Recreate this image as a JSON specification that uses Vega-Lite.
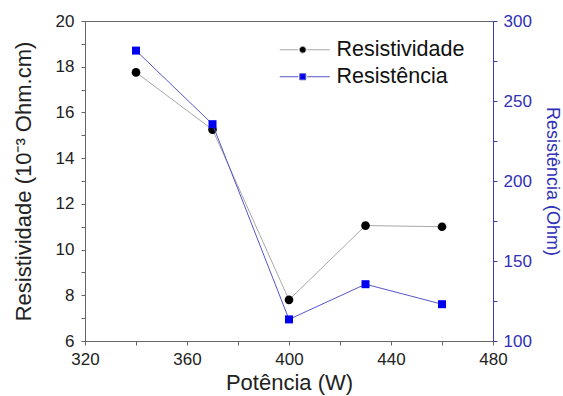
{
  "$schema": "https://vega.github.io/schema/vega-lite/v6.json",
  "width": 408,
  "height": 320,
  "autosize": "none",
  "padding": {"left": 85, "top": 21, "right": 70, "bottom": 55},
  "background": "white",
  "config": {
    "font": "Liberation Sans",
    "view": {"stroke": "#666666", "strokeWidth": 1},
    "axis": {
      "grid": false,
      "labelFontSize": 17,
      "titleFontSize": 20,
      "titleFontWeight": "normal",
      "labelColor": "#222222",
      "titleColor": "#222222",
      "domainColor": "#666666",
      "tickColor": "#666666",
      "tickSize": 4,
      "labelPadding": 6,
      "labelFlush": false,
      "labelOverlap": false
    },
    "legend": {
      "labelFontSize": 21.5,
      "labelColor": "#111111",
      "labelFont": "Liberation Sans",
      "symbolSize": 400,
      "symbolStrokeWidth": 1,
      "rowPadding": 4,
      "labelOffset": 23
    }
  },
  "data": {
    "values": [
      {"potencia": 340, "resistividade": 17.75, "resistencia": 281.5},
      {"potencia": 370, "resistividade": 15.25, "resistencia": 235.5},
      {"potencia": 400, "resistividade": 7.8, "resistencia": 113.5},
      {"potencia": 430, "resistividade": 11.05, "resistencia": 135.5},
      {"potencia": 460, "resistividade": 11.0, "resistencia": 123.0}
    ]
  },
  "encoding": {
    "x": {
      "field": "potencia",
      "type": "quantitative",
      "scale": {"domain": [320, 480], "nice": false, "zero": false},
      "axis": {
        "title": "Potência (W)",
        "titleFontSize": 22,
        "values": [320, 340, 360, 380, 400, 420, 440, 460, 480],
        "labelExpr": "datum.value % 40 === 0 ? datum.label : ''",
        "titlePadding": 5
      }
    }
  },
  "layer": [
    {
      "encoding": {
        "y": {
          "field": "resistividade",
          "type": "quantitative",
          "scale": {"domain": [6, 20], "nice": false, "zero": false},
          "axis": {
            "title": "Resistividade (10⁻³ Ohm.cm)",
            "titleFontSize": 22,
            "values": [6, 7, 8, 9, 10, 11, 12, 13, 14, 15, 16, 17, 18, 19, 20],
            "labelExpr": "datum.value % 2 === 0 ? datum.label : ''",
            "labelPadding": 7,
            "titlePadding": 20
          }
        }
      },
      "layer": [
        {"mark": {"type": "line", "color": "#a8a8a8", "strokeWidth": 1}},
        {"mark": {"type": "point", "shape": "circle", "filled": true, "color": "#000000", "size": 75, "opacity": 1}},
        {
          "transform": [{"filter": "false"}],
          "mark": {"type": "point", "filled": true, "opacity": 1},
          "encoding": {
            "fill": {
              "datum": "Resistividade",
              "scale": {"domain": ["Resistividade", "Resistência"], "range": ["#000000", "#0000ee"]},
              "legend": {"title": null, "orient": "none", "legendX": 207, "legendY": 18}
            },
            "stroke": {
              "datum": "Resistividade",
              "scale": {"domain": ["Resistividade", "Resistência"], "range": ["#a8a8a8", "#5555cc"]},
              "legend": {"title": null, "orient": "none", "legendX": 207, "legendY": 18}
            },
            "shape": {
              "datum": "Resistividade",
              "scale": {
                "domain": ["Resistividade", "Resistência"],
                "range": [
                  "M-2.3,0H-0.45M0.45,0H2.7M-0.33,0A0.33,0.33 0 1,0 0.33,0A0.33,0.33 0 1,0 -0.33,0Z",
                  "M-2.3,0H-0.45M0.45,0H2.7M-0.3,-0.3H0.3V0.3H-0.3Z"
                ]
              },
              "legend": {"title": null, "orient": "none", "legendX": 207, "legendY": 18}
            }
          }
        }
      ]
    },
    {
      "encoding": {
        "y": {
          "field": "resistencia",
          "type": "quantitative",
          "scale": {"domain": [100, 300], "nice": false, "zero": false},
          "axis": {
            "orient": "right",
            "title": "Resistência (Ohm)",
            "titleFontSize": 18,
            "values": [100, 125, 150, 175, 200, 225, 250, 275, 300],
            "labelExpr": "datum.value % 50 === 0 ? datum.label : ''",
            "domainColor": "#3a3ac0",
            "tickColor": "#3a3ac0",
            "labelColor": "#3030b8",
            "titleColor": "#3030b8",
            "labelPadding": 6,
            "titlePadding": 11
          }
        }
      },
      "layer": [
        {"mark": {"type": "line", "color": "#5555cc", "strokeWidth": 1}},
        {"mark": {"type": "point", "shape": "square", "filled": true, "color": "#0000ee", "size": 64, "opacity": 1}}
      ]
    }
  ],
  "resolve": {"scale": {"y": "independent"}}
}
